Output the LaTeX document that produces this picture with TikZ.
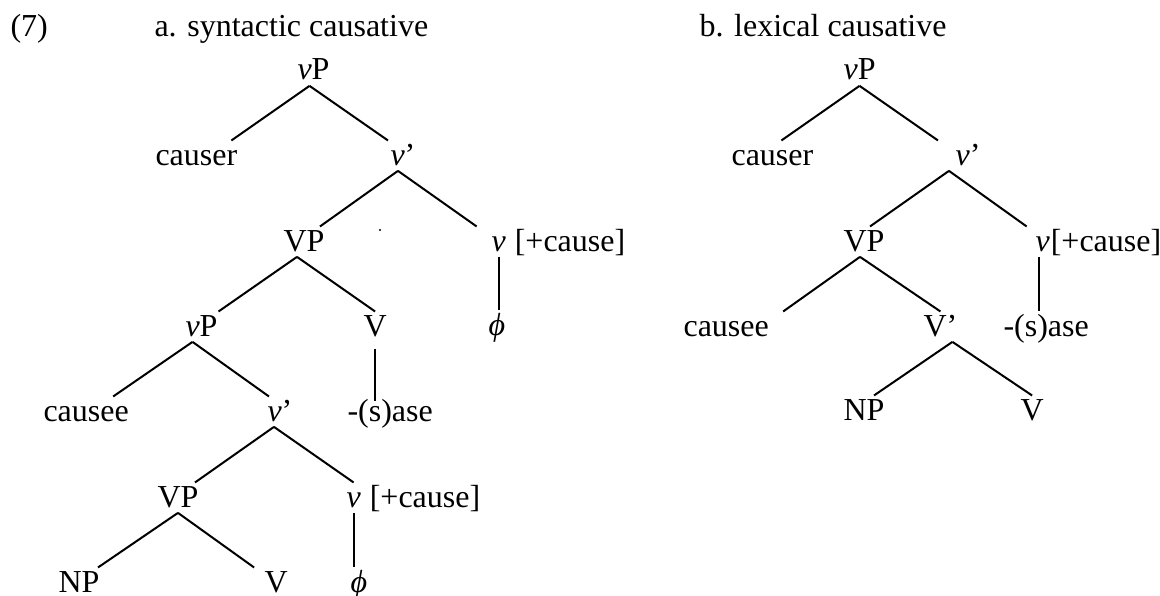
\documentclass[tikz,border=0pt]{standalone}
\usepackage{fontspec}
\setmainfont{Liberation Serif}
\usetikzlibrary{positioning}

\tikzset{
    word/.style={inner sep=0pt, text height=0.9em, text depth=0.2em, anchor=base west},
    branch/.style={line width=0.75pt}
}

\begin{document}
\begin{tikzpicture}[x=0.375pt, y=-0.375pt, font=\fontsize{12}{14}\selectfont]
        \useasboundingbox (0,0) rectangle (1160,595);

        \node[word] (num) at (10,37) {(7)};
        \node[word] (titleA) at (154,37) {a. syntactic causative};
        \node[word] (titleB) at (699,37) {b. lexical causative};

        % syntactic causative
        \node[word] (vPa) at (297,80) {\textit{v}P};
        \node[word] (causerA) at (155,165) {causer};
        \node[word] (vbarA) at (390,165) {\textit{v}’};
        \node[word] (VPa) at (283,251) {VP};
        \node[word] (vA) at (491,251) {\textit{v}};
        \node[word, right=3pt of vA] (featA) {[+cause]};
        \node[circle, fill, inner sep=0pt, minimum size=0.8pt] (dotA) at (380,230) {};
        \node[word] (vPb) at (185,336) {\textit{v}P};
        \node[word] (VA) at (363,336) {V};
        \node[word, anchor=base] (phiA) at (497,335) {\textit{ϕ}};
        \node[word] (causeeA) at (43,421) {causee};
        \node[word] (vbarB) at (267,421) {\textit{v}’};
        \node[word] (saseA) at (347,421) {-(s)ase};
        \node[word] (VPc) at (157,507) {VP};
        \node[word] (vB) at (346,507) {\textit{v}};
        \node[word, right=3pt of vB] (featB) {[+cause]};
        \node[word, text depth=0pt] (NPa) at (58,592) {NP};
        \node[word, text depth=0pt] (Vb) at (264,592) {V};
        \node[word, anchor=base] (phiB) at (359,592) {\textit{ϕ}};

        \draw[branch] ([shift={(-4,0)}]vPa.south) -- ([shift={(35,0)}]causerA.north);
        \draw[branch] ([shift={(-4,0)}]vPa.south) -- ([shift={(-15,0)}]vbarA.north);
        \draw[branch] ([shift={(-5,0)}]vbarA.south) -- ([shift={(16,0)}]VPa.north);
        \draw[branch] ([shift={(-5,0)}]vbarA.south) -- ([shift={(-22,0)}]vA.north);
        \draw[branch] (vA.south) -- (vA.south |- phiA.north);
        \draw[branch] ([shift={(-7,0)}]VPa.south) -- ([shift={(17,0)}]vPb.north);
        \draw[branch] ([shift={(-7,0)}]VPa.south) -- (VA.north);
        \draw[branch] ([shift={(0,7)}]VA.south) -- ([shift={(0,5)}]VA.south |- saseA.north);
        \draw[branch] ([shift={(-9,0)}]vPb.south) -- ([shift={(27,0)}]causeeA.north);
        \draw[branch] ([shift={(-9,0)}]vPb.south) -- ([shift={(-11,0)}]vbarB.north);
        \draw[branch] ([shift={(-6,0)}]vbarB.south) -- ([shift={(17,0)}]VPc.north);
        \draw[branch] ([shift={(-6,0)}]vbarB.south) -- (vB.north);
        \draw[branch] (VPc.south) -- ([shift={(19,0)}]NPa.north);
        \draw[branch] (VPc.south) -- ([shift={(-22,0)}]Vb.north);
        \draw[branch] (vB.south) -- (vB.south |- phiB.north);

        % lexical causative
        \node[word] (vPr) at (843,80) {\textit{v}P};
        \node[word] (causerR) at (731,165) {causer};
        \node[word] (vbarR) at (955,165) {\textit{v}’};
        \node[word] (VPr) at (843,251) {VP};
        \node[word] (vR) at (1035,251) {\textit{v}};
        \node[word, right=0pt of vR] (featR) {[+cause]};
        \node[word] (causeeR) at (683,336) {causee};
        \node[word] (VbarR) at (923,336) {V’};
        \node[word] (saseR) at (1003,336) {-(s)ase};
        \node[word] (NPr) at (843,420) {NP};
        \node[word] (Vr) at (1020,420) {V};

        \draw[branch] (vPr.south) -- ([shift={(9,0)}]causerR.north);
        \draw[branch] (vPr.south) -- ([shift={(-30,0)}]vbarR.north);
        \draw[branch] ([shift={(-19,0)}]vbarR.south) -- ([shift={(6,0)}]VPr.north);
        \draw[branch] ([shift={(-19,0)}]vbarR.south) -- ([shift={(-16,0)}]vR.north);
        \draw[branch] ([shift={(-4,0)}]vR.south) -- ([shift={(-4,0)}]vR.south |- saseR.north);
        \draw[branch] ([shift={(-4,0)}]VPr.south) -- ([shift={(57,0)}]causeeR.north);
        \draw[branch] ([shift={(-4,0)}]VPr.south) -- (VbarR.north);
        \draw[branch] ([shift={(12,0)}]VbarR.south) -- ([shift={(10,0)}]NPr.north);
        \draw[branch] ([shift={(12,0)}]VbarR.south) -- (Vr.north);
    \end{tikzpicture}
\end{document}
